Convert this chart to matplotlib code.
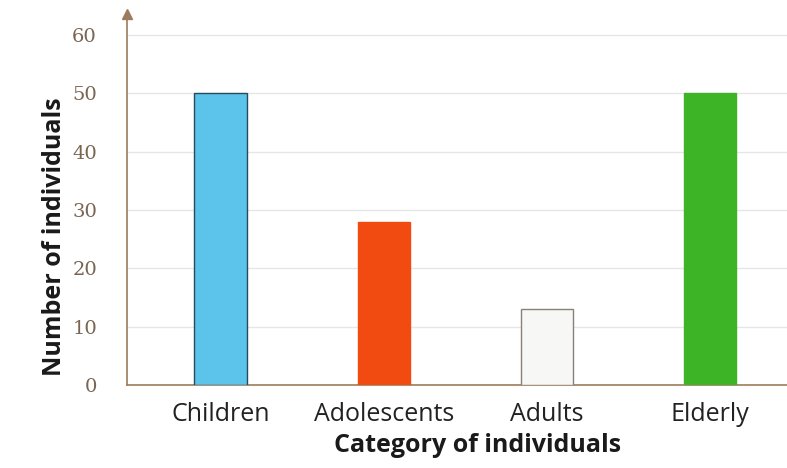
import matplotlib.pyplot as plt
import numpy as np

categories = ['Children', 'Adolescents', 'Adults', 'Elderly']
values = [50, 28, 13, 50]
bar_colors = ['#5cc3ea', '#f24b12', '#f7f7f5', '#3db326']
edge_colors = ['#2a4a5a', '#f24b12', '#8a8078', '#3db326']
y_ticks = [0, 10, 20, 30, 40, 50, 60]

fig = plt.figure(figsize=(7.87, 4.68), dpi=100)
ax = fig.add_axes([0.162, 0.177, 0.838, 0.793])

x = np.arange(len(categories))
ax.bar(x, values, width=0.32, color=bar_colors, edgecolor=edge_colors, linewidth=1.0, zorder=3)

# faint horizontal rules like the printed page
for t in y_ticks[1:]:
    ax.axhline(t, color='#e6e6e6', linewidth=1.0, zorder=1)

ax.set_xlim(-0.57, 3.47)
ax.set_ylim(0, 63.6)
ax.set_xticks(x)
ax.set_xticklabels(categories, fontsize=18, family='Open Sans', color='#222222')
ax.set_yticks(y_ticks)
ax.set_yticklabels([str(t) for t in y_ticks], fontsize=14, family='DejaVu Serif', color='#7a6452')
ax.tick_params(axis='x', length=0, pad=12)
ax.tick_params(axis='y', length=0, pad=22)

for side in ['top', 'right']:
    ax.spines[side].set_visible(False)
ax.spines['left'].set_color('#9c7c5c')
ax.spines['bottom'].set_color('#9c7c5c')
ax.spines['left'].set_linewidth(1.2)
ax.spines['bottom'].set_linewidth(1.2)

# arrow head on the y axis
ax.plot(0, 1.0, marker='^', color='#9c7c5c', markersize=7, transform=ax.transAxes, clip_on=False)

ax.set_xlabel('Category of individuals', fontsize=18, fontweight='bold', family='Open Sans', color='#1a1a1a')
ax.set_ylabel('Number of individuals', fontsize=18, fontweight='bold', family='Open Sans', color='#1a1a1a')
ax.xaxis.set_label_coords(0.531, -0.13)
ax.yaxis.set_label_coords(-0.092, 0.40)

fig.savefig('out.png', dpi=100, facecolor='white')
